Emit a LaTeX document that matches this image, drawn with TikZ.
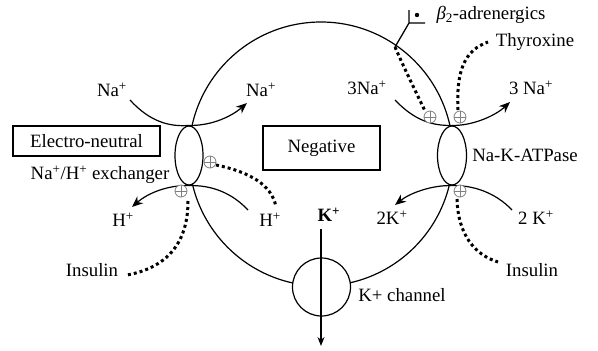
\documentclass[tikz,border=0pt]{standalone}
\usepackage{fontspec}
\setmainfont{Liberation Serif}
\usetikzlibrary{shapes.geometric,arrows.meta}
\begin{document}
\begin{tikzpicture}[x=1pt,y=-1pt,
  line width=1.2pt,
  lbl/.style={inner sep=0pt, font=\fontsize{18.8}{22}\selectfont},
  labelbox/.style={draw, line width=1.4pt, inner sep=0pt, font=\fontsize{18.8}{22}\selectfont},
  pore/.style={ellipse, draw, fill=white, line width=1.2pt, inner sep=0pt, minimum height=59pt},
  flux/.style={line width=1.2pt, -{Stealth[length=11pt,width=9pt]}},
  dotreg/.style={line width=3pt, dash pattern=on 3pt off 3pt, black},
  actsym/.style={circle, draw=gray, fill=white, line width=0.8pt, minimum size=12pt, inner sep=0pt,
    path picture={\draw[gray,line width=0.8pt] (path picture bounding box.north) -- (path picture bounding box.south) (path picture bounding box.west) -- (path picture bounding box.east);}}
]
\useasboundingbox (0,0) rectangle (598,351);

% cell membrane
\node[circle, draw, line width=1.2pt, minimum size=264pt, inner sep=0pt] (cell) at (321,154) {};

% K channel
\node[circle, draw, fill=white, line width=1.2pt, minimum size=58pt, inner sep=0pt] (kch) at (321.5,287) {};

% transporters
\node[pore, minimum width=28pt] (nhe) at (189,155.5) {};
\node[pore, minimum width=29pt] (atp) at (452,155.5) {};

% boxes
\node[labelbox, minimum width=147pt, minimum height=30pt] (eneutral) at (86.5,141) {Electro-neutral};
\node[labelbox, minimum width=117pt, minimum height=44pt] (neg) at (321.5,148) {Negative};

% labels
\node[lbl] (naL) at (112,90) {Na\textsuperscript{+}};
\node[lbl] (naR) at (261,90) {Na\textsuperscript{+}};
\node[lbl] (hL) at (123,220) {H\textsuperscript{+}};
\node[lbl] (hR) at (270,220) {H\textsuperscript{+}};
\node[lbl] (nheTxt) at (100,175) {Na\textsuperscript{+}/H\textsuperscript{+} exchanger};
\node[lbl] (insL) at (92,270) {Insulin};
\node[lbl] (na3L) at (367,88) {3Na\textsuperscript{+}};
\node[lbl] (na3R) at (531,88) {3 Na\textsuperscript{+}};
\node[lbl] (k2L) at (392,218) {2K\textsuperscript{+}};
\node[lbl] (k2R) at (536,218) {2 K\textsuperscript{+}};
\node[lbl] (atpTxt) at (525,155) {Na-K-ATPase};
\node[lbl] (insR) at (532,270) {Insulin};
\node[lbl] (thy) at (535,42) {Thyroxine};
\node[lbl] (beta) at (491,15) {{\itshape β}\textsubscript{2}-adrenergics};
\node[lbl] (kchTxt) at (402,295) {K+ channel};
\node[lbl, anchor=west] (kTxt) at (317,215) {\textbf{K}\textsuperscript{\textbf{+}}};

% coordinates
\coordinate (nat1) at (130,100);
\coordinate (nat2) at (247,103);
\coordinate (ht1) at (248,210);
\coordinate (ht2) at (132,207);
\coordinate (at1) at (395,100);
\coordinate (at2) at (510,102);
\coordinate (kt1) at (512,210);
\coordinate (kt2) at (395,205);
\coordinate (ktop) at (321,229);
\coordinate (kbot) at (321,346);
\coordinate (rec) at (395,47);
\coordinate (recA) at (409,23);
\coordinate (recT) at (409,10);
\coordinate (recR) at (425,23);

% transport arcs
\draw[flux] (nat1) .. controls (150,122) and (170,127) .. (nhe.north) .. controls (212,126) and (232,116) .. (nat2);
\draw[flux] (ht1) .. controls (232,193) and (212,185) .. (nhe.south) .. controls (168,185) and (148,193) .. (ht2);
\draw[flux] (at1) .. controls (414,120) and (432,126) .. (atp.north) .. controls (472,126) and (495,116) .. (at2);
\draw[flux] (kt1) .. controls (495,192) and (472,185) .. (atp.south) .. controls (432,185) and (410,193) .. (kt2);

% K+ efflux
\draw[line width=1.2pt, -{Stealth[length=9pt,width=7pt]}] (ktop) -- (kbot);

% beta receptor
\draw[line width=1.3pt] (rec) -- (recA) (recT) -- (recA) -- (recR);
\fill (417,15) circle[radius=2.2pt];

% regulatory dotted lines
\draw[dotreg] (216,165) .. controls (250,172) and (272,185) .. (276,207);
\draw[dotreg] (188,201) .. controls (188,245) and (165,268) .. (127,275);
\draw[dotreg] (rec) .. controls (405,70) and (415,90) .. (425,111);
\draw[dotreg] (458,110) .. controls (456,70) and (465,50) .. (488,42);
\draw[dotreg] (457,199) .. controls (458,235) and (475,255) .. (498,262);

% activation symbols
\node[actsym] (p1) at (210,162) {};
\node[actsym] (p2) at (181,191) {};
\node[actsym] (p3) at (430,117) {};
\node[actsym] (p4) at (460,117) {};
\node[actsym] (p5) at (460,191) {};
\end{tikzpicture}
\end{document}
